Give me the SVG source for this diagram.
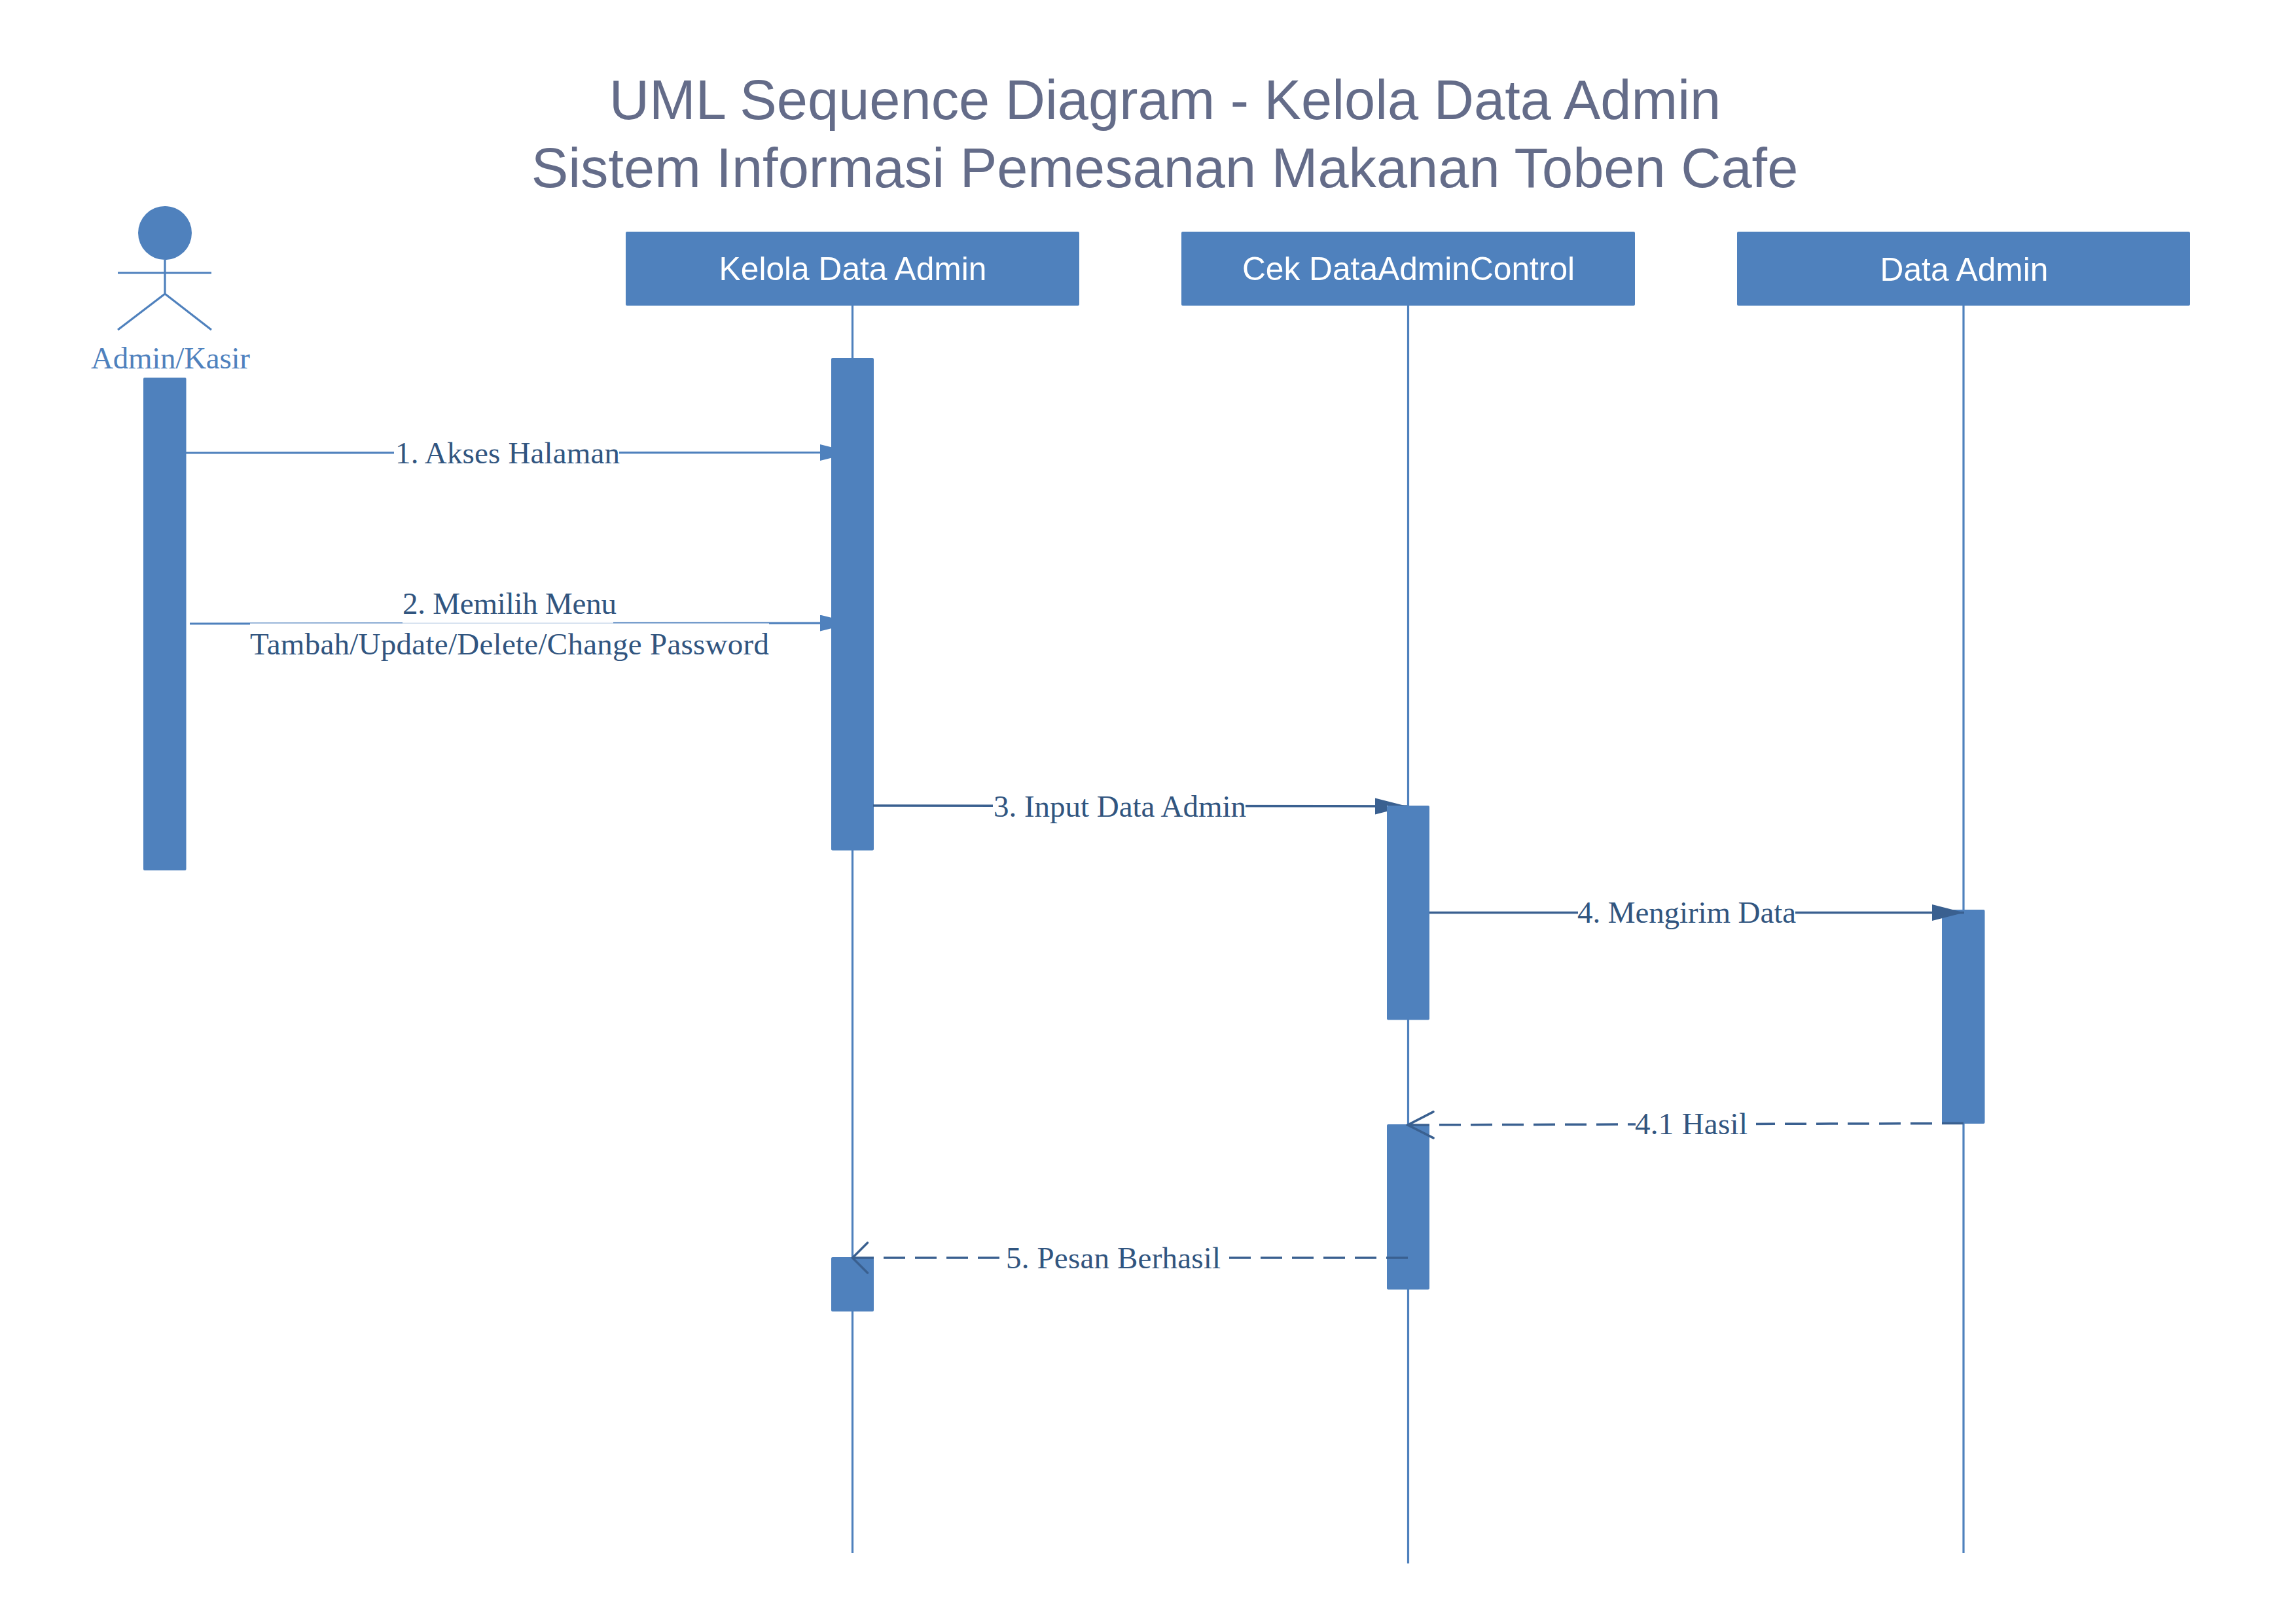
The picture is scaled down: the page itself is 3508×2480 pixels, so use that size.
<svg xmlns="http://www.w3.org/2000/svg" width="3508" height="2480" viewBox="0 0 3508 2480">
<style>
.box{fill:#4f81bd}
.life{stroke:#4f81bd;stroke-width:3.200;fill:none}
.hdr{font-family:"Liberation Sans",Arial,sans-serif;font-size:49.700px;fill:#fff;text-anchor:middle}
.title{font-family:"Liberation Sans",Arial,sans-serif;font-size:84.800px;fill:#646c89;text-anchor:middle}
.lbl{font-family:"Liberation Serif","Times New Roman",serif;font-size:47px;fill:#31557f;text-anchor:middle}
.actor{font-family:"Liberation Serif","Times New Roman",serif;font-size:47px;fill:#4f81bd;text-anchor:middle}
.msgL{stroke:#4f81bd;stroke-width:3.200;fill:none}
.msgD{stroke:#3a6090;stroke-width:3.500;fill:none}
.dash{stroke:#3a6090;stroke-width:3.500;fill:none;stroke-dasharray:33 15}
.bg{fill:#fff}
</style>
<defs>
<marker id="triL" markerUnits="userSpaceOnUse" markerWidth="50" markerHeight="26" refX="49" refY="12.5" orient="auto"><path d="M0,0L49,12.5L0,25Z" fill="#4f81bd"/></marker>
<marker id="triD" markerUnits="userSpaceOnUse" markerWidth="50" markerHeight="26" refX="49" refY="12.5" orient="auto"><path d="M0,0L49,12.5L0,25Z" fill="#3a6090"/></marker>
<marker id="openA" markerUnits="userSpaceOnUse" markerWidth="44" markerHeight="48" refX="41" refY="23" orient="auto"><path d="M2,3L41,23L2,43" fill="none" stroke="#3a6090" stroke-width="3.500" stroke-linecap="round"/></marker>
<marker id="openB" markerUnits="userSpaceOnUse" markerWidth="30" markerHeight="52" refX="26" refY="26" orient="auto"><path d="M3,3L26,26L3,49" fill="none" stroke="#3a6090" stroke-width="3.500" stroke-linecap="round"/></marker>
<clipPath id="c1"><rect x="0" y="0" width="1270" height="2480"/></clipPath>
<clipPath id="c3"><path d="M0,0H3508V1231H2119V2480H0Z"/></clipPath>
</defs>
<rect width="3508" height="2480" fill="#fff"/>
<g id="title">
<text class="title" x="1780" y="182">UML Sequence Diagram - Kelola Data Admin</text>
<text class="title" x="1779.500" y="286">Sistem Informasi Pemesanan Makanan Toben Cafe</text>
</g>
<g id="actor-admin-kasir">
<circle class="box" cx="252" cy="356" r="41"/>
<path class="life" d="M252,397V449M180,417H323M180,504L252,449L323,504"/>
<text class="actor" x="260.500" y="563" textLength="243">Admin/Kasir</text>
<rect class="box" x="219" y="577" width="65.500" height="753" rx="2"/>
</g>
<g id="lifeline-kelola-data-admin">
<line class="life" x1="1302.500" y1="467" x2="1302.500" y2="2373"/>
<rect class="box" x="956" y="354" width="693" height="113" rx="2"/>
<text class="hdr" x="1303" y="428">Kelola Data Admin</text>
<rect class="box" x="1270" y="547" width="65" height="752.500" rx="2"/>
<rect class="box" x="1270" y="1921" width="65" height="83" rx="2"/>
</g>
<g id="lifeline-cek-dataadmincontrol">
<line class="life" x1="2151.500" y1="467" x2="2151.500" y2="2389"/>
<rect class="box" x="1805" y="354" width="693" height="113" rx="2"/>
<text class="hdr" x="2152" y="428">Cek DataAdminControl</text>
<rect class="box" x="2119" y="1231" width="65" height="327.500" rx="2"/>
<rect class="box" x="2119" y="1718" width="65" height="252.500" rx="2"/>
</g>
<g id="lifeline-data-admin">
<line class="life" x1="3000" y1="467" x2="3000" y2="2373"/>
<rect class="box" x="2654" y="354" width="692" height="113" rx="2"/>
<text class="hdr" x="3001" y="429">Data Admin</text>
<rect class="box" x="2967" y="1390" width="65.500" height="327" rx="2"/>
</g>
<g id="connectors">
<g id="msg-1">
<line class="msgL" x1="284" y1="692" x2="1302" y2="691.500" marker-end="url(#triL)" clip-path="url(#c1)"/>
<rect class="bg" x="602" y="665" width="344" height="55"/>
<text class="lbl" x="775.500" y="708" textLength="343">1. Akses Halaman</text>
</g>
<g id="msg-2">
<line class="msgL" x1="290" y1="953" x2="1302" y2="952" marker-end="url(#triL)" clip-path="url(#c1)"/>
<rect class="bg" x="382" y="952.500" width="793" height="60"/>
<rect class="bg" x="615" y="905" width="322" height="47.500" fill-opacity="0.85"/>
<text class="lbl" x="778.500" y="937.500" textLength="327">2. Memilih Menu</text>
<text class="lbl" x="778.500" y="999.500" textLength="793">Tambah/Update/Delete/Change Password</text>
</g>
<g id="msg-3">
<line class="msgD" x1="1334" y1="1231" x2="2150" y2="1232" marker-end="url(#triD)" clip-path="url(#c3)"/>
<rect class="bg" x="1517" y="1205" width="386" height="55"/>
<text class="lbl" x="1711" y="1248" textLength="386">3. Input Data Admin</text>
</g>
<g id="msg-4">
<line class="msgD" x1="2184" y1="1394.500" x2="3001" y2="1394.500" marker-end="url(#triD)"/>
<rect class="bg" x="2411" y="1368" width="332" height="55"/>
<text class="lbl" x="2577" y="1410" textLength="334">4. Mengirim Data</text>
</g>
<g id="msg-4-1">
<line class="dash" x1="3000" y1="1716.500" x2="2151" y2="1719" marker-end="url(#openA)"/>
<rect class="bg" x="2499" y="1691" width="184" height="55"/>
<text class="lbl" x="2584" y="1733" textLength="172">4.1 Hasil</text>
</g>
<g id="msg-5">
<line class="dash" x1="2151" y1="1922" x2="1302.500" y2="1922" marker-end="url(#openB)"/>
<rect class="bg" x="1530" y="1895" width="348" height="55"/>
<text class="lbl" x="1701" y="1937.500" textLength="328">5. Pesan Berhasil</text>
</g>
</g>
</svg>
